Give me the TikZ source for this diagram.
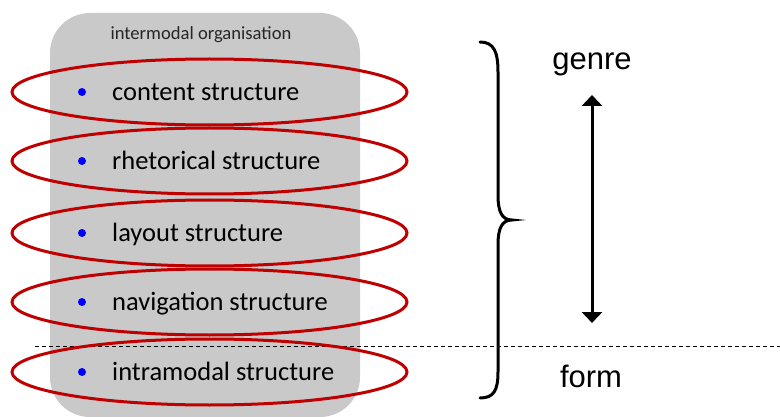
\documentclass[tikz,border=0pt]{standalone}
\usepackage{fontspec}
\setmainfont{Carlito}
\newfontfamily\arialf{Liberation Sans}
\usetikzlibrary{shapes.geometric,arrows.meta}
\definecolor{ellred}{HTML}{C00000}
\definecolor{boxgray}{HTML}{C9C9C9}
\tikzset{
  ring/.style={ellipse, draw=ellred, line width=3pt, minimum width=395pt, minimum height=66pt, inner sep=0pt},
  itemtext/.style={anchor=base west, inner sep=0pt, font=\fontsize{26.5}{30}\selectfont},
  bulletdot/.style={circle, fill=blue, inner sep=0pt, minimum size=8pt},
  sidetext/.style={inner sep=0pt, anchor=base, font=\arialf\fontsize{31}{36}\selectfont},
}
\begin{document}
\begin{tikzpicture}[x=1pt,y=-1pt]
\useasboundingbox (0,0) rectangle (780,417);
\fill[white] (0,0) rectangle (780,417);
\node[draw=none, fill=boxgray, rounded corners=40pt, minimum width=310pt, minimum height=404pt, inner sep=0pt] (box) at (205,215) {};
\node[inner sep=0pt, text=black!85, font=\fontsize{18.6}{22}\selectfont] (title) at (201,35) {intermodal organisation};
\coordinate (dl) at (35,346);
\coordinate (dr) at (780,346);
\draw[line width=0.8pt, dash pattern=on 4pt off 3pt] (dl) -- (dr);
\foreach \i/\y/\t in {1/92/content structure, 2/161/rhetorical structure, 3/233/layout structure, 4/302/navigation structure, 5/372/intramodal structure}{
  \node[ring] (e\i) at (209.5,\y) {};
  \node[bulletdot] (b\i) at (82,\y) {};
  \node[itemtext] (t\i) at (112,\y+8.5) {\t};
}
\coordinate (bt) at (480,42);
\coordinate (bm) at (512,220);
\coordinate (bb) at (480,398);
\draw[line width=3pt, line cap=round] (bt) .. controls (494,42) and (498,52) .. (498,72) -- (498,195) .. controls (498,212) and (502,220) .. (bm) .. controls (502,220) and (498,228) .. (498,245) -- (498,372) .. controls (498,390) and (494,398) .. (bb);
\node[sidetext] (genre) at (592,70) {genre};
\node[sidetext] (form) at (591,387) {form};
\coordinate (atop) at (592,95);
\coordinate (abot) at (592,323);
\draw[line width=3pt, {Triangle[width=20pt,length=11pt]}-{Triangle[width=20pt,length=11pt]}] (atop) -- (abot);
\end{tikzpicture}
\end{document}
